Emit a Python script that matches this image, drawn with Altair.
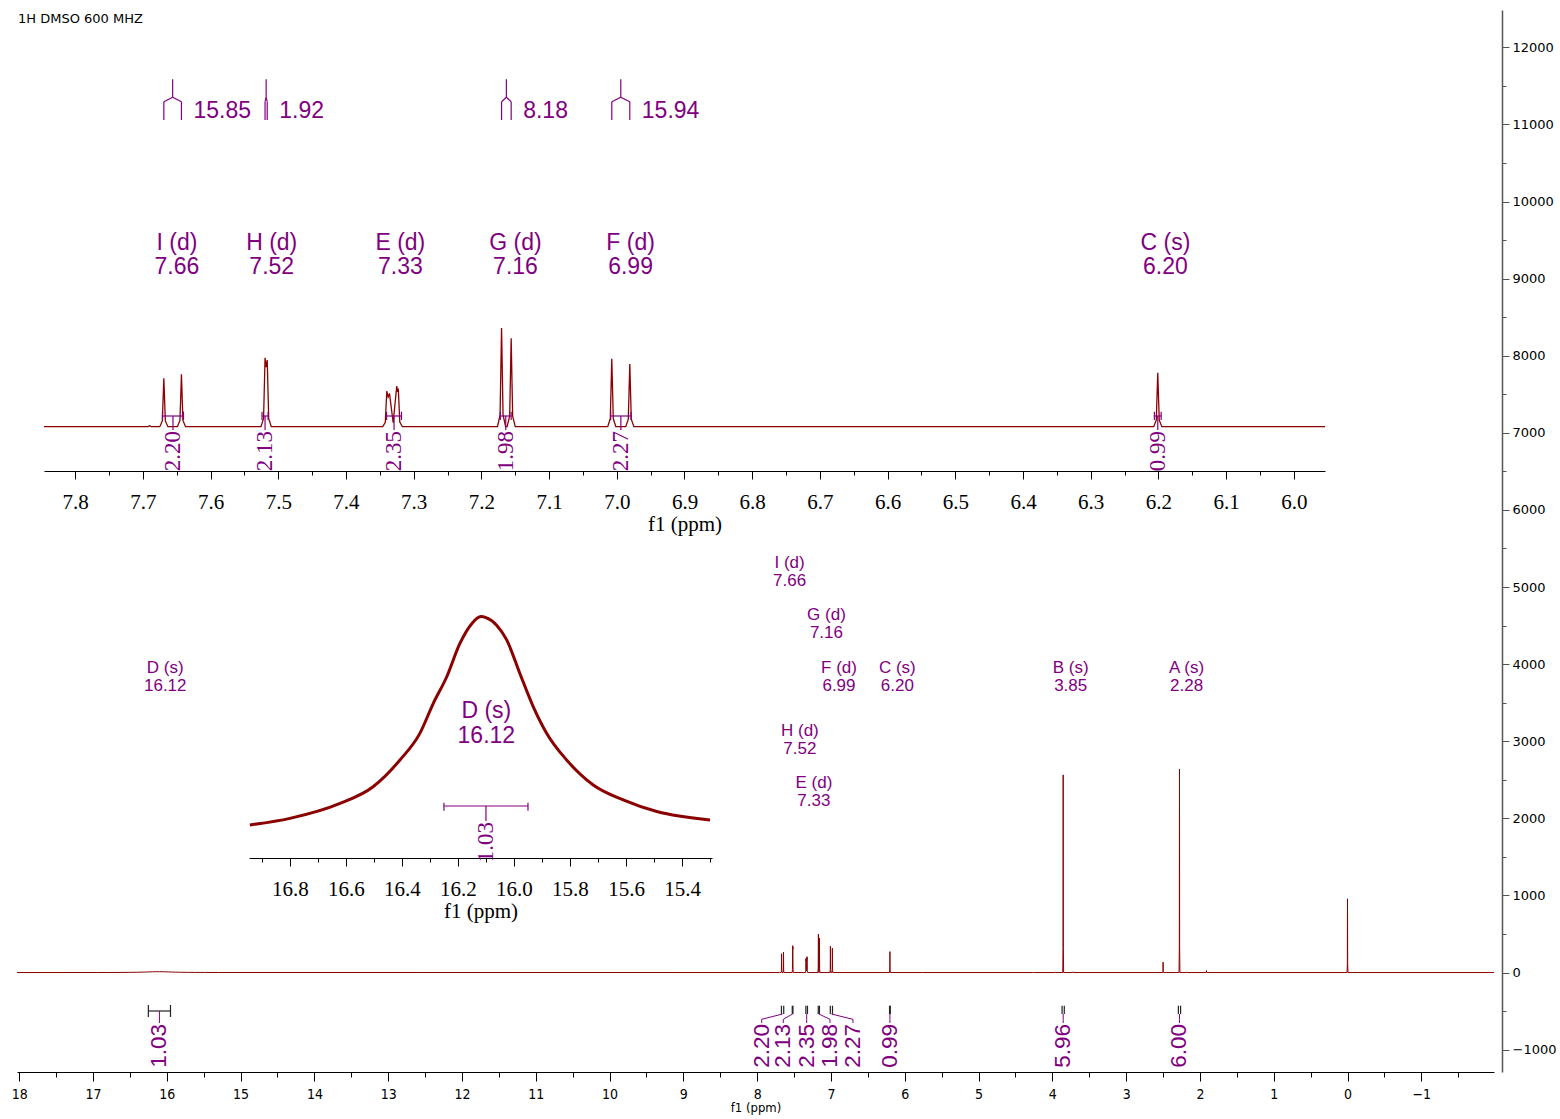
import altair as alt
import pandas as pd

# ------------------------------------------------------------------
# Spectrum: resolved lines (ppm) and their peak intensities
# ------------------------------------------------------------------
line_ppm = [7.690, 7.669, 7.643, 7.5195, 7.5163, 7.3397, 7.3357, 7.3250, 7.3227,
            7.1702, 7.1560, 7.0074, 6.9808, 6.201, 5.760, 4.260, 3.960, 3.853,
            3.717, 2.499, 2.277, 2.180, 1.912, 0.000]
line_int = [5, 244, 264, 348, 336, 180, 168, 205, 192,
            498, 446, 343, 316, 272, 6, 5, 8, 2564,
            10, 135, 2638, 8, 26, 956]
line_sig = ["", "I", "I", "H", "H", "E", "E", "E", "E",
            "G", "G", "F", "F", "C", "", "", "", "B",
            "", "", "A", "", "", ""]

# minima between lines that overlap
valley_ppm = [7.5179, 7.3377, 7.3303, 7.3238]
valley_int = [300, 150, 20, 176]

# broad exchangeable signal D (ppm, intensity)
broad_ppm = [16.943, 16.800, 16.621, 16.503, 16.407, 16.336, 16.288, 16.240, 16.193,
             16.150, 16.118, 16.100, 16.062, 16.026, 15.979, 15.931, 15.883, 15.812,
             15.717, 15.610, 15.490, 15.300]
broad_int = [0.26, 0.60, 1.37, 2.23, 3.61, 4.98, 6.53, 7.90, 9.62,
             10.65, 11.00, 10.95, 10.56, 9.80, 8.07, 6.35, 4.98, 3.61,
             2.32, 1.55, 0.95, 0.52]

# ------------------------------------------------------------------
# Assigned signals, couplings, integrals
# ------------------------------------------------------------------
sig_name = ["A", "B", "C", "D", "E", "F", "G", "H", "I"]
sig_mult = ["s", "s", "s", "s", "d", "d", "d", "d", "d"]
sig_shift = [2.28, 3.85, 6.20, 16.12, 7.33, 6.99, 7.16, 7.52, 7.66]

j_sig = ["I", "H", "G", "F"]
j_hz = [15.85, 1.92, 8.18, 15.94]

int_sig = ["D", "I", "H", "E", "G", "F", "C", "B", "A"]
int_val = [1.03, 2.20, 2.13, 2.35, 1.98, 2.27, 0.99, 5.96, 6.00]
int_from = [16.25, 7.671, 7.524, 7.340, 7.172, 7.009, 6.206, 3.868, 2.292]
int_to = [15.95, 7.640, 7.515, 7.318, 7.156, 6.979, 6.196, 3.838, 2.262]

# ------------------------------------------------------------------
# Layout and style
# ------------------------------------------------------------------
W, H = 1477, 1062
SPEC = "#8b0000"
PURPLE = "#800080"
SANS = "Liberation Sans, Arial, sans-serif"
NARROW = "Liberation Sans Narrow, DejaVu Sans Condensed, Liberation Sans, sans-serif"
SERIF = "Liberation Serif, Times New Roman, serif"
VERA = "DejaVu Sans, Verdana, sans-serif"

MAIN_X = dict(domain=[18.03, -1.985], range=[0, W])
MAIN_Y = dict(domain=[-1290, 12484], range=[H, 0])
IN1_X = dict(domain=[7.846, 5.954], range=[27, 1308])
IN1_Y = dict(domain=[0, 1000], range=[416.7, 218.5])
IND_X = dict(domain=[16.946, 15.293], range=[232, 695])
IND_Y = dict(domain=[0, 10], range=[820, 626])

MAIN_LABEL_Y = {"A": 658, "B": 658, "C": 658, "D": 658, "F": 658,
                "G": 605, "I": 553, "H": 721, "E": 773}
INT_LABEL_AT = {"I": 7.939, "H": 7.646, "E": 7.329, "G": 7.013, "F": 6.702}


def sc(d):
    return alt.Scale(nice=False, zero=False, **d)


def X(field, d, axis=None):
    return alt.X(field, type="quantitative", scale=sc(d), axis=axis)


def Y(field, d, axis=None):
    return alt.Y(field, type="quantitative", scale=sc(d), axis=axis)


def PX(field):
    return alt.Y(field, type="quantitative", scale=None)


# ------------------------------------------------------------------
# Spectrum vertex table
# ------------------------------------------------------------------
FOOT, SKIRT, SKIRT_FRAC = 0.006, 0.0022, 0.12
pts = list(zip(broad_ppm, broad_int)) + list(zip(valley_ppm, valley_int))
for p, h in zip(line_ppm, line_int):
    pts.append((p, h))
    for side in (1, -1):
        if not any(0 < side * (q - p) <= 2 * FOOT for q in line_ppm):
            pts += [(p + side * SKIRT, SKIRT_FRAC * h), (p + side * FOOT, 0.0)]

spec = pd.DataFrame(pts, columns=["ppm", "int"])
spec_main = pd.concat([spec, pd.DataFrame({"ppm": MAIN_X["domain"], "int": [0.0, 0.0]})])
lo1, hi1 = IN1_X["domain"][1], IN1_X["domain"][0]
spec_in1 = spec[(spec.ppm > lo1) & (spec.ppm < hi1)]
spec_in1 = pd.concat([spec_in1, pd.DataFrame({"ppm": [hi1, lo1], "int": [0.0, 0.0]})])
spec_ind = pd.DataFrame({"ppm": broad_ppm, "int": broad_int})

sig = pd.DataFrame({"sig": sig_name, "mult": sig_mult, "shift": sig_shift})
sig["l1"] = sig.sig + " (" + sig.mult + ")"
sig["l2"] = sig["shift"].map(lambda v: f"{v:.2f}")
sig["y1"] = sig.sig.map(MAIN_LABEL_Y)
sig["y2"] = sig.y1 + 17.5

integ = pd.DataFrame({"sig": int_sig, "val": int_val, "frm": int_from, "to": int_to})
integ["ctr"] = (integ.frm + integ.to) / 2
integ["txt"] = integ.val.map(lambda v: f"{v:.2f}")
integ["at"] = [INT_LABEL_AT.get(s, c) for s, c in zip(integ.sig, integ.ctr)]

legs = pd.DataFrame([(s, p) for s in j_sig for p, ls in zip(line_ppm, line_sig) if ls == s],
                    columns=["sig", "ppm"])
leg_ctr = legs.groupby("sig").ppm.mean()
legs["ctr"] = legs.sig.map(leg_ctr)
jdf = pd.DataFrame({"sig": j_sig, "J": j_hz})
jdf["ctr"] = jdf.sig.map(leg_ctr)
jdf["last"] = jdf.sig.map(legs.groupby("sig").ppm.min())
jdf["txt"] = jdf.J.map(lambda v: f"{v:.2f}")


def serif_axis(offset, values, test):
    return alt.Axis(
        orient="bottom", offset=offset, values=values,
        labelExpr=f"{test} ? format(datum.value, '.1f') : ''",
        tickSize={"condition": {"test": test, "value": 8}, "value": 4},
        tickColor="black", domainColor="black", tickWidth=1, domainWidth=1,
        labelFont=SERIF, labelFontSize=21, labelColor="black", labelPadding=12,
        labelOverlap=False, labelFlush=False, grid=False,
        title="f1 (ppm)", titleFont=SERIF, titleFontSize=21, titleFontWeight="normal",
        titleColor="black", titlePadding=1,
    )


# ------------------------------------------------------------------
# Main spectrum
# ------------------------------------------------------------------
main_x_axis = alt.Axis(
    orient="bottom",
    values=[k / 2 for k in range(-3, 37)],
    labelExpr="datum.value % 1 === 0 ? format(datum.value, 'd') : ''",
    tickSize={"condition": {"test": "datum.value % 1 === 0", "value": 9}, "value": 5},
    tickColor="black", domainColor="black", tickWidth=1, domainWidth=1,
    labelFont=NARROW, labelFontSize=14, labelColor="black", labelPadding=6,
    labelOverlap=False, labelFlush=False, grid=False,
    title="f1 (ppm)", titleFont=NARROW, titleFontSize=13, titleFontWeight="normal",
    titleColor="black", titlePadding=0,
)
main_y_axis = alt.Axis(
    orient="right", offset=8,
    values=list(range(-1000, 12001, 500)),
    labelExpr="datum.value % 1000 === 0 ? format(datum.value, 'd') : ''",
    tickSize={"condition": {"test": "datum.value % 1000 === 0", "value": 7}, "value": 4},
    tickColor="#555555", domainColor="#555555", tickWidth=1, domainWidth=1.5,
    labelFont=VERA, labelFontSize=13, labelColor="black", labelPadding=3,
    labelOverlap=False, labelFlush=False, grid=False, title=None,
)

main_line = alt.Chart(spec_main).mark_line(color=SPEC, strokeWidth=1).encode(
    x=X("ppm", MAIN_X, main_x_axis), y=Y("int", MAIN_Y, main_y_axis)
)
title = alt.Chart(pd.DataFrame({"t": ["1H DMSO 600 MHZ"]})).mark_text(
    align="left", baseline="middle", font=VERA, fontSize=13, color="black"
).encode(x=alt.value(1), y=alt.value(9), text="t:N")

main_l1 = alt.Chart(sig).mark_text(font=SANS, fontSize=17, color=PURPLE, dx=7.3,
                                   baseline="middle").encode(
    x=X("shift", MAIN_X), y=PX("y1"), text="l1:N")
main_l2 = alt.Chart(sig).mark_text(font=SANS, fontSize=17, color=PURPLE, dx=7.3,
                                   baseline="middle").encode(
    x=X("shift", MAIN_X), y=PX("y2"), text="l2:N")

nd = integ[integ.sig != "D"]
dd = integ[integ.sig == "D"]
marks_from = alt.Chart(nd).mark_rule(color="#222222", strokeWidth=1.2).encode(
    x=X("frm", MAIN_X), y=alt.value(995.7), y2=alt.value(1004))
marks_to = alt.Chart(nd).mark_rule(color="#222222", strokeWidth=1.2).encode(
    x=X("to", MAIN_X), y=alt.value(995.7), y2=alt.value(1004))
slant = alt.Chart(nd).mark_rule(color=PURPLE, strokeWidth=1).encode(
    x=X("at", MAIN_X), x2=alt.X2("ctr"), y=alt.value(1009.3), y2=alt.value(1004))
drop = alt.Chart(nd).mark_rule(color=PURPLE, strokeWidth=1).encode(
    x=X("at", MAIN_X), y=alt.value(1009.3), y2=alt.value(1013))
d_bar = alt.Chart(dd).mark_rule(color="#222222", strokeWidth=1.2).encode(
    x=X("frm", MAIN_X), x2=alt.X2("to"), y=alt.value(1001))
d_end1 = alt.Chart(dd).mark_rule(color="#222222", strokeWidth=1.2).encode(
    x=X("frm", MAIN_X), y=alt.value(995), y2=alt.value(1007))
d_end2 = alt.Chart(dd).mark_rule(color="#222222", strokeWidth=1.2).encode(
    x=X("to", MAIN_X), y=alt.value(995), y2=alt.value(1007))
d_drop = alt.Chart(dd).mark_rule(color=PURPLE, strokeWidth=1).encode(
    x=X("ctr", MAIN_X), y=alt.value(1001), y2=alt.value(1013))
int_text = alt.Chart(integ).mark_text(font=SANS, fontSize=22.5, color=PURPLE, angle=270,
                                      align="right", baseline="middle").encode(
    x=X("at", MAIN_X), y=alt.value(1014), text="txt:N")

main_layers = [main_line, title, main_l1, main_l2, marks_from, marks_to, slant, drop,
               d_bar, d_end1, d_end2, d_drop, int_text]

# ------------------------------------------------------------------
# Inset: aromatic region
# ------------------------------------------------------------------
T10 = "abs(datum.value * 10 - round(datum.value * 10)) < 0.001"
in1_axis = serif_axis(-601, [round(5.95 + 0.05 * k, 2) for k in range(1, 38)], T10)
in1_line = alt.Chart(spec_in1).mark_line(color=SPEC, strokeWidth=1.3).encode(
    x=X("ppm", IN1_X, in1_axis), y=Y("int", IN1_Y))

s1 = sig[(sig["shift"] > lo1) & (sig["shift"] < hi1)]
in1_l1 = alt.Chart(s1).mark_text(font=SANS, fontSize=23, color=PURPLE, dx=7,
                                 baseline="middle").encode(
    x=X("shift", IN1_X), y=alt.value(233), text="l1:N")
in1_l2 = alt.Chart(s1).mark_text(font=SANS, fontSize=23, color=PURPLE, dx=7,
                                 baseline="middle").encode(
    x=X("shift", IN1_X), y=alt.value(257), text="l2:N")

stems = alt.Chart(jdf).mark_rule(color=PURPLE, strokeWidth=1.2).encode(
    x=X("ctr", IN1_X), y=alt.value(69.3), y2=alt.value(87.3))
forks = alt.Chart(legs).mark_rule(color=PURPLE, strokeWidth=1.2).encode(
    x=X("ctr", IN1_X), x2=alt.X2("ppm"), y=alt.value(87.3), y2=alt.value(91.7))
leg_rules = alt.Chart(legs).mark_rule(color=PURPLE, strokeWidth=1.2).encode(
    x=X("ppm", IN1_X), y=alt.value(91.7), y2=alt.value(110))
j_text = alt.Chart(jdf).mark_text(font=SANS, fontSize=23, color=PURPLE, dx=12,
                                  align="left", baseline="middle").encode(
    x=X("last", IN1_X), y=alt.value(101), text="txt:N")

i1 = integ[(integ.ctr > lo1) & (integ.ctr < hi1)]
i1_bar = alt.Chart(i1).mark_rule(color=PURPLE, strokeWidth=1.2).encode(
    x=X("frm", IN1_X), x2=alt.X2("to"), y=alt.value(406))
i1_e1 = alt.Chart(i1).mark_rule(color=PURPLE, strokeWidth=1.2).encode(
    x=X("frm", IN1_X), y=alt.value(401.7), y2=alt.value(410))
i1_e2 = alt.Chart(i1).mark_rule(color=PURPLE, strokeWidth=1.2).encode(
    x=X("to", IN1_X), y=alt.value(401.7), y2=alt.value(410))
i1_drop = alt.Chart(i1).mark_rule(color=PURPLE, strokeWidth=1.2).encode(
    x=X("ctr", IN1_X), y=alt.value(406), y2=alt.value(420))
i1_text = alt.Chart(i1).mark_text(font=SERIF, fontSize=23, color=PURPLE, angle=270,
                                  align="right", baseline="middle").encode(
    x=X("ctr", IN1_X), y=alt.value(421), text="txt:N")

inset1_layers = [in1_line, in1_l1, in1_l2, stems, forks, leg_rules, j_text,
                 i1_bar, i1_e1, i1_e2, i1_drop, i1_text]

# ------------------------------------------------------------------
# Inset: broad signal D
# ------------------------------------------------------------------
T5 = "abs(datum.value * 5 - round(datum.value * 5)) < 0.001"
ind_axis = serif_axis(-214, [round(15.3 + 0.1 * k, 1) for k in range(0, 17)], T5)
ind_line = alt.Chart(spec_ind).mark_line(color=SPEC, strokeWidth=3,
                                         interpolate="monotone").encode(
    x=X("ppm", IND_X, ind_axis), y=Y("int", IND_Y))
sd = sig[sig.sig == "D"]
ind_l1 = alt.Chart(sd).mark_text(font=SANS, fontSize=23, color=PURPLE, dx=6,
                                 baseline="middle").encode(
    x=X("shift", IND_X), y=alt.value(701), text="l1:N")
ind_l2 = alt.Chart(sd).mark_text(font=SANS, fontSize=23, color=PURPLE, dx=6,
                                 baseline="middle").encode(
    x=X("shift", IND_X), y=alt.value(726), text="l2:N")
id_bar = alt.Chart(dd).mark_rule(color=PURPLE, strokeWidth=1.2).encode(
    x=X("frm", IND_X), x2=alt.X2("to"), y=alt.value(796))
id_e1 = alt.Chart(dd).mark_rule(color=PURPLE, strokeWidth=1.2).encode(
    x=X("frm", IND_X), y=alt.value(792.7), y2=alt.value(800.7))
id_e2 = alt.Chart(dd).mark_rule(color=PURPLE, strokeWidth=1.2).encode(
    x=X("to", IND_X), y=alt.value(792.7), y2=alt.value(800.7))
id_drop = alt.Chart(dd).mark_rule(color=PURPLE, strokeWidth=1.2).encode(
    x=X("ctr", IND_X), y=alt.value(796), y2=alt.value(811))
id_text = alt.Chart(dd).mark_text(font=SERIF, fontSize=23, color=PURPLE, angle=270,
                                  align="right", baseline="middle").encode(
    x=X("ctr", IND_X), y=alt.value(812), text="txt:N")

insetD_layers = [ind_line, ind_l1, ind_l2, id_bar, id_e1, id_e2, id_drop, id_text]

chart = alt.layer(*main_layers, *inset1_layers, *insetD_layers).resolve_scale(
    x="independent", y="independent"
).properties(
    width=W, height=H, background="white",
    padding={"left": 17, "top": 10, "right": 66, "bottom": 47},
    autosize=alt.AutoSizeParams(type="none"),
).configure_view(stroke=None)

chart.save("out.html", embed_options={"renderer": "svg", "actions": False})
